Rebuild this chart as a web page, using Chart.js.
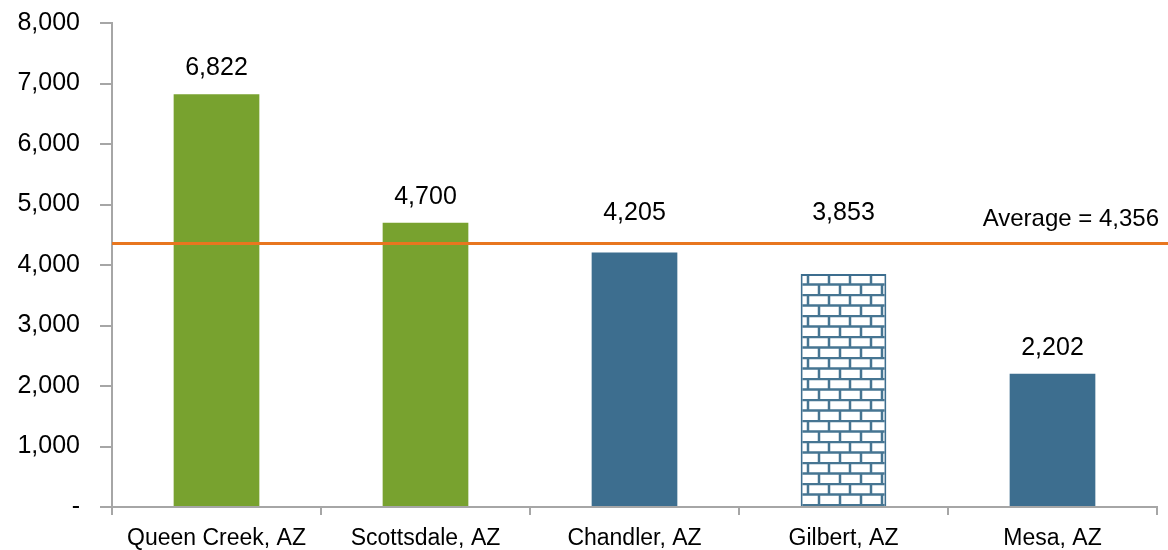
<!DOCTYPE html>
<html>
<head>
<meta charset="utf-8">
<script src="https://cdn.jsdelivr.net/npm/chart.js@4"></script>
<style>
  html, body { margin: 0; padding: 0; background: #fff; }
  #wrap { width: 1168px; height: 550px; }
</style>
</head>
<body>
<div id="wrap"><canvas id="barChart"></canvas></div>
<script>
const cities = ['Queen Creek, AZ', 'Scottsdale, AZ', 'Chandler, AZ', 'Gilbert, AZ', 'Mesa, AZ'];
const values = [6822, 4700, 4205, 3853, 2202];
const average = 4356;
const yTicks = [0, 1000, 2000, 3000, 4000, 5000, 6000, 7000, 8000];

const green = '#78a22f';
const blue = '#3d6e8f';
const orange = '#e8761f';
const fontFam = '"Liberation Sans", Arial, sans-serif';

// brick fill for Gilbert
function brickPattern() {
    const c = document.createElement('canvas');
    c.width = 42; c.height = 21;
    const g = c.getContext('2d');
    g.fillStyle = '#ffffff';
    g.fillRect(0, 0, 42, 21);
    g.strokeStyle = '#467592';
    g.lineWidth = 2.5;
    g.beginPath();
    g.moveTo(0, 1); g.lineTo(42, 1);
    g.moveTo(0, 11.5); g.lineTo(42, 11.5);
    g.moveTo(10, 1); g.lineTo(10, 11.5);
    g.moveTo(31, 1); g.lineTo(31, 11.5);
    g.moveTo(0, 11.5); g.lineTo(0, 22);
    g.moveTo(21, 11.5); g.lineTo(21, 22);
    g.moveTo(42, 11.5); g.lineTo(42, 22);
    g.stroke();
    return g.createPattern(c, 'repeat');
}

const ctx = document.getElementById('barChart').getContext('2d');
const fills = [green, green, blue, brickPattern(), blue];

const avgLine = {
    id: 'avgLine',
    afterDatasetsDraw(chart) {
        const c = chart.ctx;
        const y = chart.scales.y.getPixelForValue(average);
        c.save();
        c.strokeStyle = orange;
        c.lineWidth = 3;
        c.beginPath();
        c.moveTo(chart.chartArea.left, y);
        c.lineTo(chart.width, y);
        c.stroke();
        c.fillStyle = '#000';
        c.font = '24px ' + fontFam;
        c.textAlign = 'right';
        c.textBaseline = 'middle';
        c.fillText('Average = ' + average.toLocaleString('en-US'), chart.width - 9, y - 24);

        // value labels, moved above the average line when they would touch it
        c.textAlign = 'center';
        c.font = '25px ' + fontFam;
        chart.getDatasetMeta(0).data.forEach((bar, i) => {
            let ly = bar.y - 26;
            if (Math.abs(ly - y) < 22) ly = y - 30;
            c.fillText(values[i].toLocaleString('en-US'), bar.x, ly);
        });
        c.restore();
    }
};

new Chart(ctx, {
    type: 'bar',
    data: {
        labels: cities,
        datasets: [{
            data: values,
            backgroundColor: fills,
            borderColor: [green, green, blue, blue, blue],
            borderWidth: [0, 0, 0, 2, 0],
            barPercentage: 0.41,
            categoryPercentage: 1
        }]
    },
    options: {
        responsive: true,
        maintainAspectRatio: false,
        animation: false,
        layout: { padding: { left: 6, right: 11, top: 23, bottom: 0 } },
        plugins: {
            legend: { display: false },
            tooltip: { enabled: false }
        },
        scales: {
            x: {
                afterFit(a) { a.height = 43; a.paddingLeft = 0; a.paddingRight = 0; },
                grid: { display: true, drawOnChartArea: false, offset: true, tickLength: 8, color: '#a6a6a6', lineWidth: 2 },
                border: { color: '#a6a6a6', width: 2 },
                ticks: { color: '#000', font: { size: 23, family: fontFam, lineHeight: 1 }, padding: 12, maxRotation: 0 }
            },
            y: {
                min: 0,
                max: 8000,
                afterFit(a) { a.width = 106; a.paddingTop = 0; a.paddingBottom = 0; },
                afterBuildTicks(axis) { axis.ticks = yTicks.map(v => ({ value: v })); },
                grid: { display: true, drawOnChartArea: false, tickLength: 12, color: '#a6a6a6', lineWidth: 2 },
                border: { color: '#a6a6a6', width: 2 },
                ticks: {
                    color: '#000',
                    font: { size: 25, family: fontFam, lineHeight: 1 },
                    padding: 20,
                    callback: v => v === 0 ? '-' : v.toLocaleString('en-US')
                }
            }
        }
    },
    plugins: [avgLine]
});
</script>
</body>
</html>
